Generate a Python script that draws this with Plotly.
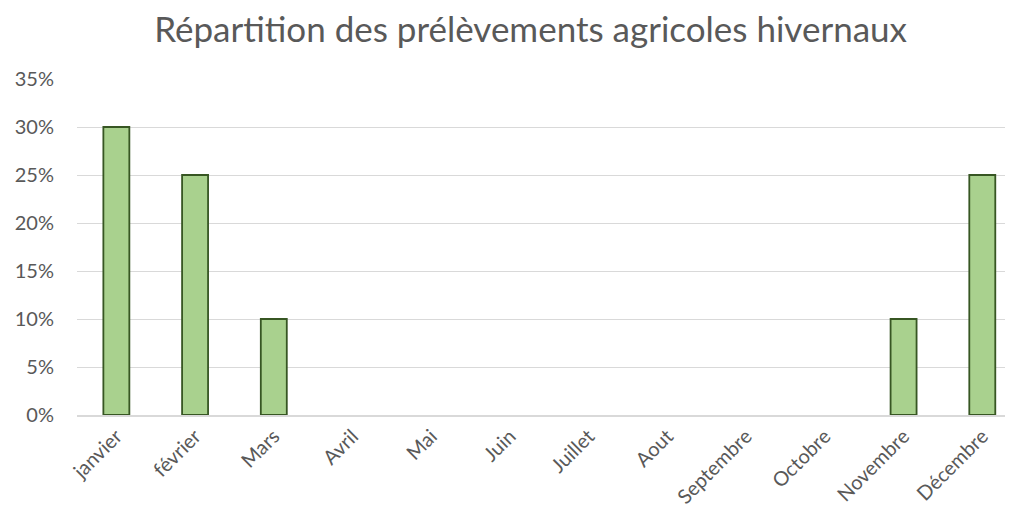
import plotly.graph_objects as go

months = ["janvier", "février", "Mars", "Avril", "Mai", "Juin", "Juillet", "Aout",
          "Septembre", "Octobre", "Novembre", "Décembre"]
shares = [0.30, 0.25, 0.10, 0, 0, 0, 0, 0, 0, 0, 0.10, 0.25]
y_ticks = [0, 0.05, 0.10, 0.15, 0.20, 0.25, 0.30, 0.35]
y_tick_labels = ["0%", "5%", "10%", "15%", "20%", "25%", "30%", "35%"]

line_widths = [1.8 if v > 0 else 0 for v in shares]

fig = go.Figure(go.Bar(
    x=months, y=shares,
    marker=dict(color="#A9D18E", line=dict(color="#375623", width=line_widths)),
))

font_family = "Lato, Carlito, Open Sans, sans-serif"
fig.update_layout(
    width=1005, height=514,
    margin=dict(l=69, r=0, t=71, b=107, autoexpand=False),
    paper_bgcolor="white", plot_bgcolor="white",
    bargap=0.67,
    showlegend=False,
    title=dict(text="Répartition des prélèvements agricoles hivernaux",
               x=0.52, xanchor="center", y=22 / 514, yref="paper",
               font=dict(family=font_family, size=35, color="#595959")),
    font=dict(family=font_family, color="#595959"),
)
fig.update_layout(title=dict(y=1 - 22 / 514, yanchor="middle", yref="container"))
fig.update_xaxes(
    range=[-0.5, 11.39],
    tickangle=-45, tickfont=dict(size=20, color="#595959"),
    showline=True, linecolor="#D9D9D9", linewidth=1.5,
    showgrid=False, ticks="", automargin=False,
)
fig.update_yaxes(
    range=[0, 0.35], tickvals=y_ticks, ticktext=y_tick_labels,
    tickfont=dict(size=20, color="#595959"),
    showgrid=True, gridcolor="#D9D9D9", gridwidth=1,
    zeroline=False, ticks="", ticklabelstandoff=22, automargin=False,
)

fig.write_html("out.html")
